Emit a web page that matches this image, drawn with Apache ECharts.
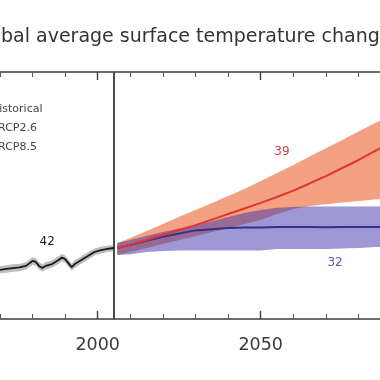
<!DOCTYPE html>
<html><head><meta charset="utf-8">
<script src="https://cdn.jsdelivr.net/npm/echarts@6/dist/echarts.min.js"></script>
<style>html,body{margin:0;padding:0;background:#fff}#c{width:380px;height:380px}</style>
</head><body><div id="c"></div>
<script>
// ---- data (°C anomaly) ----
const histYears = [1969,1970,1972,1974,1976,1978,1980,1981,1982,1983,1984,1986,1988,1989,1990,1991,1992,1993,1995,1997,1999,2001,2003,2005];
const histMean  = [-0.42,-0.41,-0.38,-0.35,-0.33,-0.28,-0.12,-0.15,-0.28,-0.35,-0.28,-0.22,-0.09,-0.01,-0.06,-0.19,-0.32,-0.22,-0.09,0.04,0.17,0.23,0.27,0.30];
const histLow   = [-0.54,-0.53,-0.50,-0.47,-0.45,-0.40,-0.24,-0.27,-0.40,-0.47,-0.40,-0.34,-0.21,-0.13,-0.18,-0.31,-0.44,-0.34,-0.21,-0.08,0.06,0.12,0.17,0.20];
const histHigh  = [-0.30,-0.29,-0.26,-0.23,-0.21,-0.16,0.00,-0.03,-0.16,-0.23,-0.16,-0.10,0.03,0.11,0.06,-0.07,-0.20,-0.10,0.03,0.16,0.28,0.34,0.37,0.40];

const projYears = [2006,2010,2015,2020,2025,2030,2035,2040,2045,2050,2055,2060,2065,2070,2075,2080,2085,2090,2095,2100];
const rcp85Mean = [0.30,0.41,0.56,0.72,0.88,1.04,1.22,1.40,1.58,1.76,1.95,2.16,2.39,2.63,2.89,3.15,3.44,3.70,3.96,4.22];
const rcp85High = [0.46,0.62,0.85,1.08,1.31,1.53,1.76,1.98,2.21,2.47,2.73,2.99,3.26,3.53,3.80,4.07,4.34,4.61,4.88,5.15];
const rcp85Low  = [0.07,0.17,0.30,0.43,0.56,0.69,0.82,0.95,1.08,1.21,1.40,1.56,1.66,1.72,1.77,1.82,1.87,1.92,1.98,2.05];
const rcp26Mean = [0.30,0.40,0.53,0.66,0.77,0.87,0.91,0.95,0.96,0.96,0.98,0.98,0.98,0.97,0.98,0.98,0.98,0.97,0.97,0.97];
const rcp26High = [0.46,0.56,0.69,0.82,0.93,1.04,1.17,1.30,1.43,1.53,1.60,1.63,1.64,1.64,1.64,1.64,1.64,1.64,1.64,1.64];
const rcp26Low  = [0.07,0.10,0.17,0.20,0.22,0.22,0.22,0.22,0.22,0.22,0.27,0.27,0.27,0.27,0.28,0.30,0.33,0.33,0.33,0.33];

const xTicks = [1950,2000,2050,2100];
const legendNames = ['Historical','RCP2.6','RCP8.5'];
const modelCounts = [
  {text:'42', year:1984.5, value:0.49},
  {text:'39', year:2056.5, value:3.41},
  {text:'32', year:2072.8, value:-0.19}
];
const titleText = 'Global average surface temperature change';

// ---- helpers ----
const pairs = (xs, ys) => xs.map((x,i)=>[x, ys[i]]);
const FONT = '"DejaVu Sans", sans-serif';
const TITLE_FONT = '19px "DejaVu Sans"';

const cv = document.createElement('canvas').getContext('2d');
cv.font = TITLE_FONT;
const gloW = cv.measureText('Glo').width;

const chart = echarts.init(document.getElementById('c'), null, {renderer:'canvas'});

const axisCommon = {
  type:'value', min:xTicks[0], max:xTicks[xTicks.length-1], interval:50,
  axisLine:{show:true, onZero:false, lineStyle:{color:'#3c3c3c', width:1.6}},
  axisTick:{show:true, inside:true, length:8, lineStyle:{color:'#3c3c3c', width:1.4}},
  minorTick:{show:true, splitNumber:5, length:5, lineStyle:{color:'#555', width:1}},
  splitLine:{show:false}
};

// band polygon drawn through the axis scales (api.coord)
function band(name, xs, lo, hi, color, z) {
  return {
    type:'custom', name, z, silent:true, clip:false,
    data: xs.map((x,i)=>[x, lo[i], hi[i]]),
    encode:{x:0, y:[1,2]},
    renderItem(params, api) {
      if (params.dataIndex !== 0) return null;
      const up = xs.map((x,i)=>api.coord([x, hi[i]]));
      const dn = xs.map((x,i)=>api.coord([x, lo[i]])).reverse();
      return {type:'polygon', shape:{points: up.concat(dn)}, style:{fill:color, stroke:null}};
    }
  };
}

chart.setOption({
  animation:false,
  grid:{left:-65.3, right:-43.7, top:72, bottom:61, containLabel:false, outerBoundsMode:'none'},
  xAxis:[
    Object.assign({}, axisCommon, {position:'bottom',
      axisLabel:{show:true, color:'#3a3a3a', fontSize:17.5, fontFamily:FONT, margin:17, formatter:v=>String(v)}}),
    Object.assign({}, axisCommon, {position:'top', axisLabel:{show:false}})
  ],
  yAxis:{type:'value', min:-2, max:6, show:false},
  series:[
    band('hb', histYears, histLow, histHigh, '#bdbdbd', 1),
    band('rb', projYears, rcp85Low, rcp85High, '#f3a083', 2),
    band('bb', projYears, rcp26Low, rcp26High, 'rgba(60,50,168,0.5)', 3),
    {type:'line', name:legendNames[0], data:pairs(histYears,histMean), symbol:'none', z:5,
     lineStyle:{color:'#1a1a1a', width:1.8},
     markLine:{symbol:'none', silent:true, label:{show:false},
       lineStyle:{color:'#4a4a4a', width:2, type:'solid'}, data:[{xAxis:2005}]},
     markPoint:{symbol:'circle', symbolSize:0, silent:true,
       data:[{coord:[modelCounts[0].year, modelCounts[0].value],
         label:{show:true, formatter:modelCounts[0].text, color:'#222', fontSize:12, fontFamily:FONT}}]}},
    {type:'line', name:legendNames[1], data:pairs(projYears,rcp26Mean), symbol:'none', z:5,
     lineStyle:{color:'#34318a', width:2},
     markPoint:{symbol:'circle', symbolSize:0, silent:true,
       data:[{coord:[modelCounts[2].year, modelCounts[2].value],
         label:{show:true, formatter:modelCounts[2].text, color:'#5b58a8', fontSize:12, fontFamily:FONT}}]}},
    {type:'line', name:legendNames[2], data:pairs(projYears,rcp85Mean), symbol:'none', z:6,
     lineStyle:{color:'#e2352b', width:2},
     markPoint:{symbol:'circle', symbolSize:0, silent:true,
       data:[{coord:[modelCounts[1].year, modelCounts[1].value],
         label:{show:true, formatter:modelCounts[1].text, color:'#d2403c', fontSize:12, fontFamily:FONT}}]}}
  ],
  graphic:[
    {type:'text', left:1-gloW, top:28, style:{text:titleText, font:TITLE_FONT, fill:'#333'}},
    {type:'text', x:42.5, y:109, style:{text:legendNames[0], font:'11px "DejaVu Sans"', fill:'#444', align:'right', verticalAlign:'middle'}},
    {type:'text', x:37, y:128, style:{text:legendNames[1], font:'11px "DejaVu Sans"', fill:'#444', align:'right', verticalAlign:'middle'}},
    {type:'text', x:37, y:147, style:{text:legendNames[2], font:'11px "DejaVu Sans"', fill:'#444', align:'right', verticalAlign:'middle'}}
  ]
});
</script></body></html>
